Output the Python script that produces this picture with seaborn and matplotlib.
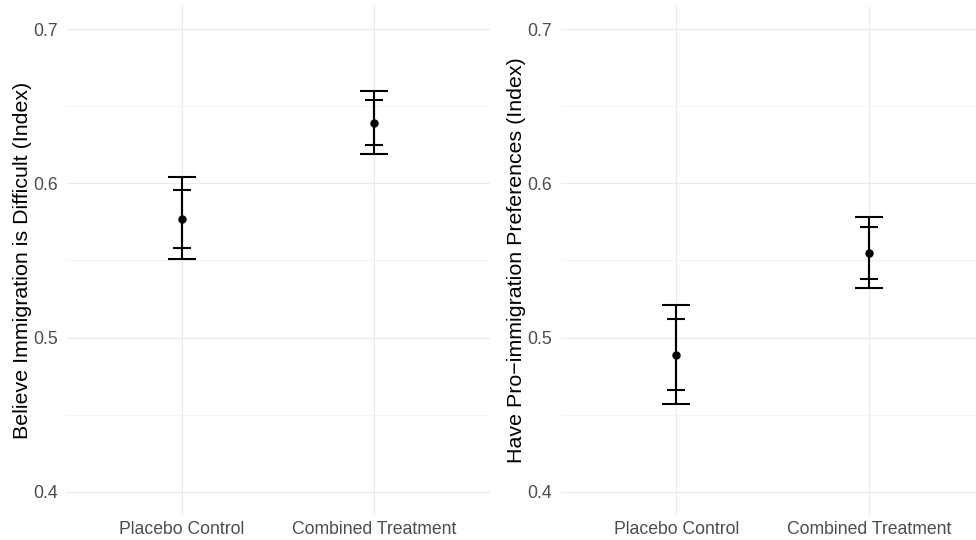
import pandas as pd
import seaborn as sns
import matplotlib.pyplot as plt
from matplotlib.ticker import FixedLocator

# values
conditions = ["Placebo Control", "Combined Treatment"]
difficult_mean = [0.577, 0.639]
difficult_lo95 = [0.551, 0.619]
difficult_hi95 = [0.604, 0.660]
difficult_lo90 = [0.558, 0.625]
difficult_hi90 = [0.596, 0.654]

proimm_mean = [0.489, 0.555]
proimm_lo95 = [0.457, 0.532]
proimm_hi95 = [0.521, 0.578]
proimm_lo90 = [0.466, 0.538]
proimm_hi90 = [0.512, 0.572]

ylabels = ["Believe Immigration is Difficult (Index)",
           "Have Pro\u2212immigration Preferences (Index)"]


def make_df(mean, lo95, hi95, lo90, hi90):
    return pd.DataFrame({"condition": conditions, "mean": mean,
                         "lo95": lo95, "hi95": hi95, "lo90": lo90, "hi90": hi90})


panels = [make_df(difficult_mean, difficult_lo95, difficult_hi95, difficult_lo90, difficult_hi90),
          make_df(proimm_mean, proimm_lo95, proimm_hi95, proimm_lo90, proimm_hi90)]

sns.set_theme(style="white")
plt.rcParams["font.family"] = ["Liberation Sans", "DejaVu Sans"]

fig = plt.figure(figsize=(9.76, 5.4), dpi=100)
W, H = 976, 540
# panel boxes in pixels (left, top, right, bottom) -- right panel runs past the edge like the reference
boxes = [(66, 6, 490, 515), (560.5, 6, 985, 515)]

for df, lab, (l, t, r, b) in zip(panels, ylabels, boxes):
    ax = fig.add_axes([l / W, 1 - b / H, (r - l) / W, (b - t) / H])

    x = range(len(df))
    # 95% intervals, wide caps
    ax.errorbar(x, df["mean"], yerr=[df["mean"] - df["lo95"], df["hi95"] - df["mean"]],
                fmt="none", ecolor="black", elinewidth=1.5, capsize=10.4, capthick=1.5)
    # 90% intervals, narrow caps
    ax.errorbar(x, df["mean"], yerr=[df["mean"] - df["lo90"], df["hi90"] - df["mean"]],
                fmt="none", ecolor="black", elinewidth=1.5, capsize=6.8, capthick=1.5)
    sns.pointplot(data=df, x="condition", y="mean", order=conditions, errorbar=None,
                  linestyle="none", color="black", markers="o", markersize=4, ax=ax)

    ax.set_xlim(-0.6, 1.6)
    ax.set_ylim(0.385, 0.715)
    ax.yaxis.set_major_locator(FixedLocator([0.4, 0.5, 0.6, 0.7]))
    ax.yaxis.set_minor_locator(FixedLocator([0.45, 0.55, 0.65]))
    # seaborn switches the categorical grid off, so turn it back on here
    ax.grid(True, which="major", axis="both", color="#ebebeb", linewidth=0.8)
    ax.grid(True, which="minor", axis="y", color="#f3f3f3", linewidth=0.6)
    ax.set_axisbelow(True)

    ax.set_xlabel("")
    ax.set_ylabel(lab, fontsize=15.4, color="black", labelpad=1)
    ax.tick_params(axis="both", which="both", length=0, labelsize=12.7, labelcolor="#4d4d4d")
    ax.tick_params(axis="y", pad=6)
    ax.tick_params(axis="x", pad=4)
    for s in ax.spines.values():
        s.set_visible(False)

fig.savefig("out.png", dpi=100)
